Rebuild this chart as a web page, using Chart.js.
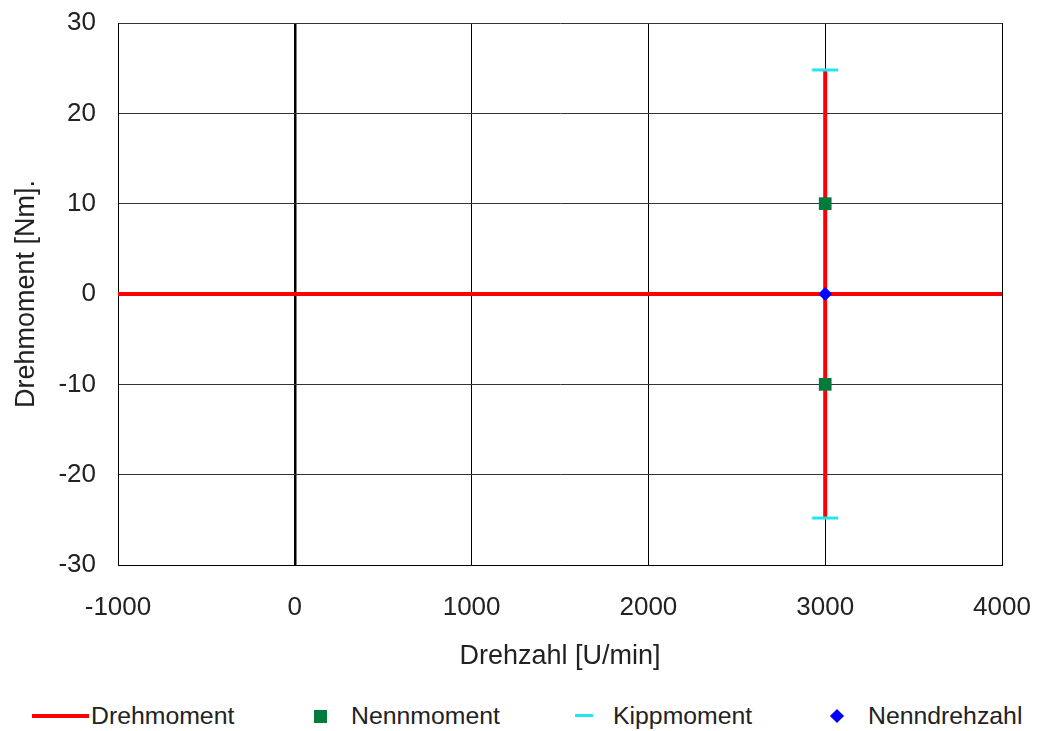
<!DOCTYPE html>
<html>
<head>
<meta charset="utf-8">
<script src="https://cdn.jsdelivr.net/npm/chart.js@4"></script>
<style>
  html, body { margin: 0; padding: 0; background: #fff; }
  #wrap { position: relative; width: 1037px; height: 731px; font-family: "Liberation Sans", Arial, sans-serif; }
  #box { position: absolute; left: 0; top: 0; width: 1037px; height: 690px; }
  .lg { position: absolute; top: 702px; font-size: 24.8px; color: #222; line-height: 28px; }
  .sym { position: absolute; }
</style>
</head>
<body>
<div id="wrap">
  <div id="box"><canvas id="torqueChart"></canvas></div>
  <div class="sym" style="left:32px;top:714px;width:57px;height:4px;background:#ff0000;"></div>
  <div class="lg" style="left:91px;">Drehmoment</div>
  <div class="sym" style="left:314px;top:710px;width:13px;height:13px;background:#007a3d;"></div>
  <div class="lg" style="left:351px;">Nennmoment</div>
  <div class="sym" style="left:575px;top:714px;width:18px;height:3px;background:#22e6ee;"></div>
  <div class="lg" style="left:613px;">Kippmoment</div>
  <div class="sym" style="left:832px;top:711px;width:10px;height:10px;background:#0000ff;transform:rotate(45deg);"></div>
  <div class="lg" style="left:868px;">Nenndrehzahl</div>
</div>
<script>
// Kennlinie: Drehmoment ueber Drehzahl
const drehmomentX = [-1000, 4000, 3000, 3000, 3000];
const drehmomentY = [0, 0, null, 24.8, -24.8];
const nennmomentX = [3000, 3000];
const nennmomentY = [10, -10];
const kippmomentX = [3000, 3000];
const kippmomentY = [24.8, -24.8];
const nenndrehzahlX = [3000];
const nenndrehzahlY = [0];
const xTicks = [-1000, 0, 1000, 2000, 3000, 4000];
const yTicks = [-30, -20, -10, 0, 10, 20, 30];

const pts = (xs, ys) => xs.map((x, i) => ({ x: x, y: ys[i] }));

document.addEventListener('DOMContentLoaded', () => {
    const ctx = document.getElementById('torqueChart');
    const tickFont = { family: '"Liberation Sans", Arial, sans-serif', size: 26 };
    const titleFont = { family: '"Liberation Sans", Arial, sans-serif', size: 27 };

    new Chart(ctx, {
        type: 'scatter',
        data: {
            datasets: [{
                label: 'Nenndrehzahl',
                data: pts(nenndrehzahlX, nenndrehzahlY),
                pointStyle: 'rectRot',
                pointRadius: 7,
                backgroundColor: '#0000ff',
                borderColor: '#0000ff',
                borderWidth: 0,
                order: 0
            }, {
                label: 'Nennmoment',
                data: pts(nennmomentX, nennmomentY),
                pointStyle: 'rect',
                pointRadius: 9,
                backgroundColor: '#007a3d',
                borderColor: '#007a3d',
                borderWidth: 0,
                order: 1
            }, {
                label: 'Kippmoment',
                data: pts(kippmomentX, kippmomentY),
                pointStyle: 'line',
                pointRadius: 13,
                borderColor: '#22e6ee',
                borderWidth: 3,
                order: 2
            }, {
                label: 'Drehmoment',
                data: pts(drehmomentX, drehmomentY),
                showLine: true,
                spanGaps: false,
                borderColor: '#ff0000',
                borderWidth: 4,
                pointRadius: 0,
                order: 3
            }]
        },
        options: {
            responsive: true,
            maintainAspectRatio: false,
            animation: false,
            layout: {
                autoPadding: false,
                padding: { top: 23, right: 35, bottom: 0, left: 0 }
            },
            plugins: {
                legend: { display: false },
                tooltip: { enabled: false }
            },
            scales: {
                x: {
                    type: 'linear',
                    min: -1000,
                    max: 4000,
                    afterBuildTicks: (s) => { s.ticks = xTicks.map(v => ({ value: v })); },
                    afterFit: (s) => { s.height = 125; s.paddingLeft = 0; s.paddingRight = 0; },
                    border: { color: '#000', width: 1 },
                    grid: {
                        color: '#000',
                        lineWidth: (c) => (c.tick && c.tick.value === 0 ? 2.5 : 1),
                        drawTicks: false
                    },
                    ticks: {
                        color: '#222',
                        font: tickFont,
                        padding: 27,
                        maxRotation: 0,
                        callback: (v) => String(v)
                    },
                    title: {
                        display: true,
                        text: 'Drehzahl [U/min]',
                        color: '#222',
                        font: titleFont,
                        padding: { top: 0, bottom: 17 }
                    }
                },
                y: {
                    type: 'linear',
                    min: -30,
                    max: 30,
                    afterBuildTicks: (s) => { s.ticks = yTicks.map(v => ({ value: v })); },
                    afterFit: (s) => { s.width = 118; s.paddingTop = 0; s.paddingBottom = 0; },
                    border: { color: '#000', width: 1 },
                    grid: {
                        color: '#333',
                        lineWidth: 1,
                        drawTicks: false
                    },
                    ticks: {
                        color: '#222',
                        font: tickFont,
                        padding: 22,
                        callback: (v) => String(v)
                    },
                    title: {
                        display: true,
                        text: 'Drehmoment [Nm].',
                        color: '#222',
                        font: titleFont,
                        padding: { top: 10, bottom: 0 }
                    }
                }
            }
        }
    });
});
</script>
</body>
</html>
